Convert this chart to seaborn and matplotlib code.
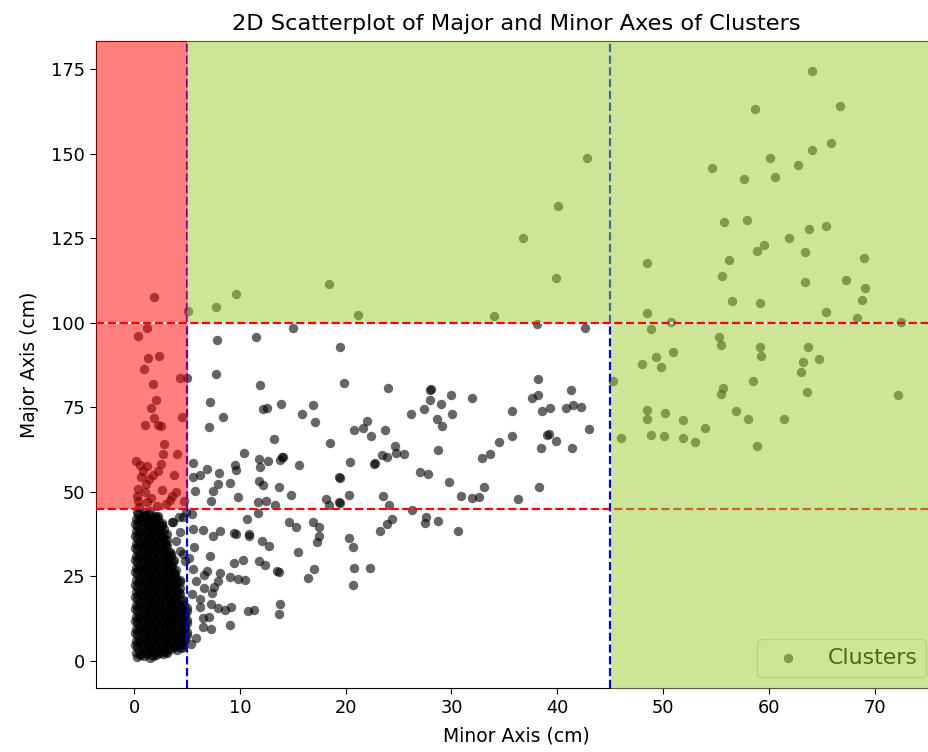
import matplotlib
matplotlib.use("Agg")
import matplotlib.pyplot as plt
import seaborn as sns
import pandas as pd

# ---------------- data (minor axis, major axis) in cm ----------------
right_zone = [(64.1,174.4),(58.7,163.1),(66.7,164.0),(65.9,153.2),(64.1,151.1),(60.1,148.6),
              (54.6,145.7),(62.8,146.5),(57.7,142.4),(60.6,143.2),(55.8,129.9),(57.9,130.3),
              (63.8,127.8),(65.4,128.7),(61.9,125.0),(59.5,123.0),(58.9,121.2),(63.4,120.8),
              (48.5,117.6),(56.2,118.4),(69.0,119.2),(55.6,113.8),(63.4,112.1),(67.3,112.6),
              (69.1,110.2),(68.8,106.8),(56.5,106.3),(59.2,105.9),(48.5,102.7),(65.4,103.0),
              (68.3,101.5),(72.5,100.1),(50.8,100.2),(48.9,98.0),(55.3,95.6),(55.5,93.5),
              (59.2,92.7),(63.7,92.7),(59.3,90.1),(49.3,89.7),(50.9,91.4),(64.7,89.3),
              (48.0,87.7),(49.8,86.8),(63.2,88.2),(63.0,85.5),(45.3,82.7),(58.5,82.7),
              (55.7,80.6),(55.5,79.0),(63.6,79.4),(72.2,78.6),(48.5,74.0),(48.5,71.5),
              (50.2,73.2),(51.9,71.1),(56.9,73.7),(58.0,71.5),(61.4,71.5),(46.0,66.0),
              (48.9,66.8),(50.1,66.5),(51.9,66.0),(53.0,64.8),(54.0,68.9),(58.9,63.5)]

upper_band = [(1.9,107.6),(5.1,103.5),(7.7,104.7),(9.6,108.4),(18.4,111.3),(21.2,102.2),
              (34.0,101.8),(36.8,125.0),(40.1,134.5),(42.8,148.6),(39.9,113.3)]

mid_scatter = [(38.1,99.7),(42.6,98.4),(15.0,98.4),(11.5,95.6),(7.8,94.7),(19.5,92.7),
               (19.8,82.2),(24.0,80.6),(28.0,80.1),(28.1,80.4),(28.0,77.2),(30.0,78.5),
               (29.0,76.0),(31.9,77.7),(26.2,73.1),(27.4,74.5),(30.1,73.1),(28.6,71.6),
               (29.1,69.4),(38.2,83.4),(38.2,78.6),(37.6,77.7),(41.3,80.2),(35.7,73.9),
               (38.6,73.9),(39.3,74.8),(40.8,74.8),(41.5,75.6),(42.2,75.1),(43.0,68.6),
               (39.0,66.8),(39.2,67.0),(39.9,64.9),(38.5,62.8),(41.4,62.8),(35.7,66.5),
               (34.5,64.8),(33.6,61.1),(32.9,59.9),(38.3,51.5),(36.3,47.8),(33.1,51.5),
               (32.6,48.5),(31.9,48.2),(30.9,48.6),(29.8,52.7),(28.7,62.3),(27.0,55.7),
               (27.8,55.3),(20.8,68.1),(21.6,68.7),(22.0,70.8),(22.4,66.5),(23.7,68.1),
               (24.7,63.6),(23.4,60.9),(23.9,60.2),(24.8,61.3),(25.5,61.1),(22.7,58.3),
               (22.8,58.5),(20.4,58.9),(19.5,54.0),(20.3,49.0),(19.5,46.7),(23.5,48.7),
               (24.1,46.0),(7.7,84.8),(11.9,81.5),(7.2,76.5),(8.4,72.2),(7.1,69.0),
               (12.2,74.5),(12.6,74.7),(13.9,76.0),(15.9,73.1),(16.9,75.6),(17.1,70.7),
               (13.2,65.7),(18.5,64.4),(10.4,61.5),(11.8,59.6),(11.9,57.2),(12.7,59.1),
               (14.0,60.1),(14.1,60.3),(13.8,59.4),(15.6,57.9),(5.6,58.6),(6.9,56.7),
               (9.5,58.0),(9.6,56.5),(8.0,55.4),(5.6,54.4),(6.2,54.9),(7.9,52.3),
               (9.1,52.4),(11.8,53.2),(12.2,52.0),(13.7,51.5),(14.8,49.0),(19.4,54.2),
               (7.5,50.2),(5.8,50.3),(7.3,47.2),(9.8,48.3),(11.7,47.0),(12.5,47.2),
               (13.3,45.9),(18.1,47.9),(18.4,46.0),(19.4,46.8),(5.0,83.6)]

red_zone = [(0.35,95.9),(1.2,98.4),(1.35,89.4),(2.4,90.2),(0.9,86.4),(1.8,81.9),(4.3,83.6),
            (2.1,77.1),(1.6,74.7),(4.5,72.0),(1.9,71.7),(1.0,69.8),(2.3,69.6),(2.5,69.3),
            (2.8,64.0),(2.7,61.1),(4.1,61.1),(0.2,59.1),(0.6,57.9),(1.2,57.5),(2.5,58.3),
            (2.3,56.0),(3.8,55.0),(0.7,54.2),(1.4,53.7),(1.1,52.2),(0.4,50.8),(1.0,49.8),
            (0.3,48.8),(4.0,49.8),(3.6,48.8),(3.4,47.6),(1.2,46.8),(2.2,45.8),(3.0,46.3),
            (0.35,47.1),(4.7,47.3),(0.5,45.5),(1.6,48.2),(2.6,50.5),(0.8,56.2),(1.8,54.8)]

low_scatter = [(11.7,43.8),(10.7,41.9),(14.6,40.9),(16.9,41.0),(15.3,39.4),(26.3,44.6),
               (24.4,41.9),(23.9,40.4),(27.6,42.6),(27.5,40.6),(28.7,41.3),(23.2,38.4),
               (30.6,38.4),(5.6,38.9),(6.5,38.6),(7.5,36.9),(8.1,38.2),(9.4,37.7),(9.6,37.4),
               (10.9,37.4),(10.9,36.8),(12.1,35.3),(12.8,33.9),(17.5,39.6),(17.5,36.9),
               (17.3,35.0),(15.5,32.2),(20.3,36.3),(20.7,33.7),(5.7,33.5),(5.2,30.3),
               (7.2,30.9),(9.4,29.0),(10.3,29.9),(11.8,29.5),(12.4,28.4),(13.5,26.4),
               (13.7,26.2),(17.0,27.1),(16.4,24.5),(20.8,27.4),(20.7,22.4),(22.3,27.5),
               (5.6,27.2),(6.9,26.6),(8.1,25.8),(6.6,25.4),(5.9,23.6),(7.9,23.6),(9.1,24.6),
               (9.8,24.0),(10.5,23.8),(6.6,21.5),(7.6,21.8),(7.4,19.9),(5.5,19.7),(6.2,18.2),
               (7.3,16.7),(6.2,15.9),(7.9,15.5),(8.6,15.0),(9.2,15.9),(10.8,14.7),(11.3,15.0),
               (13.8,16.7),(13.7,13.8),(9.1,10.6),(7.1,12.8),(6.5,12.6),(6.5,9.8),(7.3,9.3),
               (5.9,6.8),(5.4,4.9),(4.6,3.9),(5.5,43.4),(4.9,44.0),(3.6,41.0),(4.2,42.5),
               (4.6,42.6),(3.7,40.9),(2.2,42.6),(4.0,35.5),(4.6,31.5),(4.3,38.0),(4.3,32.5),
               (4.8,29.5),(4.3,23.8)]

dense_core = [(0.3,1.0),(0.9,1.4),(1.5,0.9),(2.1,1.6),(2.7,2.0),
              (0.5,2.7),(1.1,3.1),(1.7,2.6),(2.3,3.2),(2.9,2.9),(3.5,3.4),(4.1,3.0),
              (0.1,4.5),(0.8,4.9),(1.4,4.4),(2.0,5.0),(2.6,4.6),(3.2,5.1),(3.8,4.7),(4.4,5.3),
              (0.5,6.3),(1.1,6.7),(1.7,6.2),(2.3,6.8),(2.9,6.4),(3.5,6.9),(4.1,6.5),(4.7,7.0),
              (0.1,8.1),(0.8,8.5),(1.4,8.0),(2.0,8.6),(2.6,8.2),(3.2,8.7),(3.8,8.3),(4.4,8.8),(5.0,8.4),
              (0.5,9.9),(1.1,10.3),(1.7,9.8),(2.3,10.4),(2.9,10.0),(3.5,10.5),(4.1,10.1),(4.7,10.6),
              (0.1,11.7),(0.8,12.1),(1.4,11.6),(2.0,12.2),(2.6,11.8),(3.2,12.3),(3.8,11.9),(4.4,12.4),(5.0,12.0),
              (0.5,13.5),(1.1,13.9),(1.7,13.4),(2.3,14.0),(2.9,13.6),(3.5,14.1),(4.1,13.7),(4.7,14.2),
              (0.1,15.3),(0.8,15.7),(1.4,15.2),(2.0,15.8),(2.6,15.4),(3.2,15.9),(3.8,15.5),(4.4,16.0),(5.0,15.6),
              (0.5,17.1),(1.1,17.5),(1.7,17.0),(2.3,17.6),(2.9,17.2),(3.5,17.7),(4.1,17.3),(4.6,17.8),
              (0.1,18.9),(0.8,19.3),(1.4,18.8),(2.0,19.4),(2.6,19.0),(3.2,19.5),(3.8,19.1),(4.3,19.6),
              (0.5,20.7),(1.1,21.1),(1.7,20.6),(2.3,21.2),(2.9,20.8),(3.5,21.3),(4.1,20.9),
              (0.1,22.5),(0.8,22.9),(1.4,22.4),(2.0,23.0),(2.6,22.6),(3.2,23.1),(3.8,22.7),(4.3,23.2),
              (0.5,24.3),(1.1,24.7),(1.7,24.2),(2.3,24.8),(2.9,24.4),(3.5,24.9),(4.0,24.5),
              (0.1,26.1),(0.8,26.5),(1.4,26.0),(2.0,26.6),(2.6,26.2),(3.2,26.7),(3.8,26.3),
              (0.5,27.9),(1.1,28.3),(1.7,27.8),(2.3,28.4),(2.9,28.0),(3.5,28.5),
              (0.1,29.7),(0.8,30.1),(1.4,29.6),(2.0,30.2),(2.6,29.8),(3.2,30.3),(3.8,29.9),
              (0.5,31.5),(1.1,31.9),(1.7,31.4),(2.3,32.0),(2.9,31.6),(3.4,32.1),
              (0.1,33.3),(0.8,33.7),(1.4,33.2),(2.0,33.8),(2.6,33.4),(3.1,33.9),
              (0.5,35.1),(1.1,35.5),(1.7,35.0),(2.3,35.6),(2.9,35.2),
              (0.1,36.9),(0.8,37.3),(1.4,36.8),(2.0,37.4),(2.6,37.0),(3.1,37.5),
              (0.5,38.7),(1.1,39.1),(1.7,38.6),(2.3,39.2),(2.8,38.8),
              (0.1,40.5),(0.8,40.9),(1.4,40.4),(2.0,41.0),(2.6,40.6),
              (0.5,42.3),(1.1,42.7),(1.7,42.2),(2.3,42.8),
              (0.3,44.0),(0.9,43.8),(1.5,44.3)]

dense_core_b = [(0.6,1.6),(1.2,2.0),(1.8,1.5),(2.4,2.2),(3.0,2.6),
                (0.8,3.3),(1.4,3.7),(2.0,3.2),(2.6,3.8),(3.2,3.5),(3.8,4.0),(4.4,3.6),
                (0.4,5.1),(1.1,5.5),(1.7,5.0),(2.3,5.6),(2.9,5.2),(3.5,5.7),(4.1,5.3),(4.7,5.9),
                (0.8,6.9),(1.4,7.3),(2.0,6.8),(2.6,7.4),(3.2,7.0),(3.8,7.5),(4.4,7.1),(5.0,7.6),
                (0.4,8.7),(1.1,9.1),(1.7,8.6),(2.3,9.2),(2.9,8.8),(3.5,9.3),(4.1,8.9),(4.7,9.4),
                (0.8,10.5),(1.4,10.9),(2.0,10.4),(2.6,11.0),(3.2,10.6),(3.8,11.1),(4.4,10.7),(5.0,11.2),
                (0.4,12.3),(1.1,12.7),(1.7,12.2),(2.3,12.8),(2.9,12.4),(3.5,12.9),(4.1,12.5),(4.7,13.0),
                (0.8,14.1),(1.4,14.5),(2.0,14.0),(2.6,14.6),(3.2,14.2),(3.8,14.7),(4.4,14.3),(5.0,14.8),
                (0.4,15.9),(1.1,16.3),(1.7,15.8),(2.3,16.4),(2.9,16.0),(3.5,16.5),(4.1,16.1),(4.7,16.6),
                (0.8,17.7),(1.4,18.1),(2.0,17.6),(2.6,18.2),(3.2,17.8),(3.8,18.3),(4.4,17.9),
                (0.4,19.5),(1.1,19.9),(1.7,19.4),(2.3,20.0),(2.9,19.6),(3.5,20.1),(4.1,19.7),
                (0.8,21.3),(1.4,21.7),(2.0,21.2),(2.6,21.8),(3.2,21.4),(3.8,21.9),(4.3,21.5),
                (0.4,23.1),(1.1,23.5),(1.7,23.0),(2.3,23.6),(2.9,23.2),(3.5,23.7),(4.1,23.3),
                (0.8,24.9),(1.4,25.3),(2.0,24.8),(2.6,25.4),(3.2,25.0),(3.8,25.5),
                (0.4,26.7),(1.1,27.1),(1.7,26.6),(2.3,27.2),(2.9,26.8),(3.5,27.3),(4.0,26.9),
                (0.8,28.5),(1.4,28.9),(2.0,28.4),(2.6,29.0),(3.2,28.6),(3.7,29.1),
                (0.4,30.3),(1.1,30.7),(1.7,30.2),(2.3,30.8),(2.9,30.4),(3.5,30.9),
                (0.8,32.1),(1.4,32.5),(2.0,32.0),(2.6,32.6),(3.2,32.2),
                (0.4,33.9),(1.1,34.3),(1.7,33.8),(2.3,34.4),(2.9,34.0),
                (0.8,35.7),(1.4,36.1),(2.0,35.6),(2.6,36.2),(3.1,35.8),
                (0.4,37.5),(1.1,37.9),(1.7,37.4),(2.3,38.0),(2.8,37.6),
                (0.8,39.3),(1.4,39.7),(2.0,39.2),(2.6,39.8),
                (0.4,41.1),(1.1,41.5),(1.7,41.0),(2.3,41.6),
                (0.8,42.9),(1.4,43.3),(2.0,42.8)]

dense_core_c = [(0.2,2.2),(0.7,1.9),(1.3,2.4),(1.9,2.0),(2.5,2.6),(3.1,2.3),
                (0.3,3.9),(0.9,4.2),(1.5,3.8),(2.1,4.3),(2.7,3.9),(3.3,4.4),(3.9,4.0),(4.5,4.5),
                (0.2,5.8),(0.6,5.6),(1.2,6.0),(1.8,5.5),(2.4,6.1),(3.0,5.7),(3.6,6.2),(4.2,5.8),(4.8,6.3),
                (0.3,7.5),(0.9,7.9),(1.5,7.4),(2.1,8.0),(2.7,7.6),(3.3,8.1),(3.9,7.7),(4.5,8.2),
                (0.2,9.4),(0.6,9.3),(1.2,9.7),(1.8,9.2),(2.4,9.8),(3.0,9.4),(3.6,9.9),(4.2,9.5),(4.8,10.0),
                (0.3,11.1),(0.9,11.5),(1.5,11.0),(2.1,11.6),(2.7,11.2),(3.3,11.7),(3.9,11.3),(4.5,11.8),
                (0.2,13.0),(0.6,12.9),(1.2,13.3),(1.8,12.8),(2.4,13.4),(3.0,13.0),(3.6,13.5),(4.2,13.1),(4.8,13.6),
                (0.3,14.7),(0.9,15.1),(1.5,14.6),(2.1,15.2),(2.7,14.8),(3.3,15.3),(3.9,14.9),(4.5,15.4),
                (0.2,16.6),(0.6,16.5),(1.2,16.9),(1.8,16.4),(2.4,17.0),(3.0,16.6),(3.6,17.1),(4.2,16.7),
                (0.3,18.3),(0.9,18.7),(1.5,18.2),(2.1,18.8),(2.7,18.4),(3.3,18.9),(3.9,18.5),
                (0.2,20.2),(0.6,20.1),(1.2,20.5),(1.8,20.0),(2.4,20.6),(3.0,20.2),(3.6,20.7),(4.2,20.3),
                (0.3,21.9),(0.9,22.3),(1.5,21.8),(2.1,22.4),(2.7,22.0),(3.3,22.5),(3.9,22.1),
                (0.2,23.8),(0.6,23.7),(1.2,24.1),(1.8,23.6),(2.4,24.2),(3.0,23.8),(3.6,24.3),
                (0.3,25.5),(0.9,25.9),(1.5,25.4),(2.1,26.0),(2.7,25.6),(3.3,26.1),(3.9,25.7),
                (0.2,27.4),(0.6,27.3),(1.2,27.7),(1.8,27.2),(2.4,27.8),(3.0,27.4),(3.6,27.9),
                (0.3,29.1),(0.9,29.5),(1.5,29.0),(2.1,29.6),(2.7,29.2),(3.3,29.7),
                (0.2,31.0),(0.6,30.9),(1.2,31.3),(1.8,30.8),(2.4,31.4),(3.0,31.0),(3.5,31.5),
                (0.3,32.7),(0.9,33.1),(1.5,32.6),(2.1,33.2),(2.7,32.8),
                (0.2,34.6),(0.6,34.5),(1.2,34.9),(1.8,34.4),(2.4,35.0),(3.0,34.6),
                (0.3,36.3),(0.9,36.7),(1.5,36.2),(2.1,36.8),(2.7,36.4),
                (0.2,38.2),(0.6,38.1),(1.2,38.5),(1.8,38.0),(2.4,38.6),
                (0.3,39.9),(0.9,40.3),(1.5,39.8),(2.1,40.4),(2.6,40.0),
                (0.2,41.8),(0.6,41.7),(1.2,42.1),(1.8,41.6),
                (0.4,43.4),(1.0,43.2)]

# thresholds (cm)
minor_limits = [5, 45]
major_limits = [45, 100]

points = (dense_core + dense_core_b + dense_core_c + low_scatter + red_zone
          + mid_scatter + upper_band + right_zone)
df = pd.DataFrame(points, columns=["Minor Axis (cm)", "Major Axis (cm)"])

W, H = 929, 752
fig = plt.figure(figsize=(W / 100, H / 100), dpi=100)
ax = fig.add_axes([96 / W, 1 - 688 / H, (937 - 96) / W, (688 - 41) / H])

sns.scatterplot(data=df, x="Minor Axis (cm)", y="Major Axis (cm)", color="black",
                alpha=0.6, s=46, linewidth=0, label="Clusters", ax=ax, zorder=2)

# threshold lines
ax.axhline(major_limits[0], color="red", ls="--", lw=1.6, zorder=3)
ax.axhline(major_limits[1], color="red", ls="--", lw=1.6, zorder=12, gapcolor="white")
ax.axvline(minor_limits[0], color="blue", ls="--", lw=1.6, zorder=3)
ax.axvline(minor_limits[1], color="blue", ls="--", lw=1.6, zorder=3)

# shaded regions
ax.fill_between([-10, minor_limits[0] + 0.1], major_limits[0], 300,
                color="red", alpha=0.5, lw=0, zorder=10)
ax.fill_between([minor_limits[0], 100], major_limits[1], 300,
                color="yellowgreen", alpha=0.5, lw=0, zorder=10)
ax.fill_between([minor_limits[1] + 0.1, 100], -50, major_limits[1],
                color="yellowgreen", alpha=0.5, lw=0, zorder=10)

ax.set_xlim(-3.6, 75.9)
ax.set_ylim(-8.1, 183.3)
ax.set_title("2D Scatterplot of Major and Minor Axes of Clusters", fontsize=16.2, pad=8)
ax.set_xlabel("Minor Axis (cm)", fontsize=13.5, labelpad=7)
ax.set_ylabel("Major Axis (cm)", fontsize=13.5, labelpad=9)
ax.tick_params(labelsize=12.8, length=4.2)
ax.legend(loc="lower right", fontsize=15.8)

fig.savefig("out.png", dpi=100)
